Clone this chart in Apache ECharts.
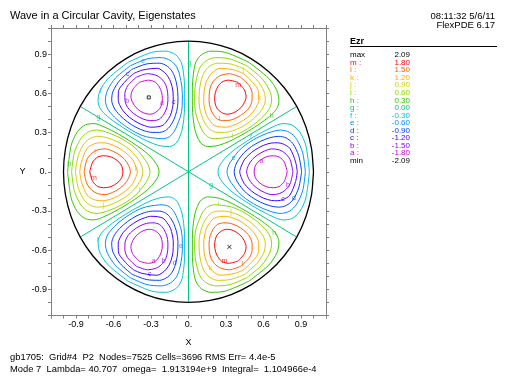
<!DOCTYPE html>
<html><head><meta charset="utf-8">
<script src="https://cdn.jsdelivr.net/npm/echarts@6/dist/echarts.min.js"></script>
<style>html,body{margin:0;padding:0;background:#fff}#c{width:512px;height:384px}</style>
</head><body><div id="c"></div>
<script>
// ---- data ----
const titleText = 'Wave in a Circular Cavity, Eigenstates';
const stampLines = ['08:11:32 5/6/11', 'FlexPDE 6.17'];
const footerLines = [
  'gb1705:  Grid#4  P2  Nodes=7525 Cells=3696 RMS Err= 4.4e-5',
  'Mode 7  Lambda= 40.707  omega=  1.913194e+9  Integral=  1.104966e-4'
];
const fieldName = 'Ezr';
const fieldMax = 2.09, fieldMin = -2.09;
const levelNames  = ['a','b','c','d','e','f','g','h','i','j','k','l','m'];
const levelValues = [-1.80,-1.50,-1.20,-0.90,-0.60,-0.30,0.00,0.30,0.60,0.90,1.20,1.50,1.80];
const levelColors = ['#d000e0','#9000ff','#4400ff','#0040ff','#0090ff','#00c8d0','#00c878',
                     '#30c800','#90d800','#d0d000','#ffb000','#ff6000','#ff0000'];
const axisTickLabels = [-0.9,-0.6,-0.3,0,0.3,0.6,0.9];

// lobe centre directions (degrees) : positive lobes and negative lobes
const positiveLobeAngles = [180, 60, 300];
const negativeLobeAngles = [0, 120, 240];

// contour of one lobe, upper half, as [radius, angle offset from lobe centre in degrees],
// from the outer tip round to the inner tip (|level| = 1.8, 1.5, 1.2, 0.9, 0.6, 0.3)
const lobe18 = [[.79,0],[.77,5.5],[.735,8.8],[.69,10.2],[.645,10.5],[.60,9.6],[.56,7.5],[.535,4.5],[.525,0]];
const lobe15 = [[.835,0],[.818,6.5],[.784,10.5],[.745,13],[.69,14.7],[.627,14.6],[.57,13.2],[.52,10.5],[.483,6],[.465,0]];
const lobe12 = [[.87,0],[.86,5],[.83,12.5],[.784,15.8],[.745,17.3],[.70,18.3],[.63,18.6],[.55,17.2],[.50,15],[.455,11.5],[.425,6],[.41,0]];
const lobe09 = [[.905,0],[.89,8],[.862,14.5],[.823,18.3],[.77,20.6],[.70,21.8],[.62,22],[.54,21],[.47,18.3],[.415,13.5],[.38,7.5],[.365,0]];
const lobe06 = [[.935,0],[.925,9],[.90,16],[.862,20.5],[.80,23.5],[.70,25],[.60,25.3],[.50,24.2],[.43,21.5],[.37,16],[.33,10],[.308,0]];
const lobe03 = [[.967,0],[.96,12],[.94,19],[.90,23.5],[.84,26],[.75,27],[.63,27.2],[.51,26.5],[.40,24.5],[.32,20.5],[.275,15],[.245,8],[.236,0]];
const lobeShapes = [lobe18, lobe15, lobe12, lobe09, lobe06, lobe03];
const shapeLevelMagnitudes = [1.80, 1.50, 1.20, 0.90, 0.60, 0.30];

// zero contours (nodal lines) : [start radius, end radius, direction deg]
const nodalLines = [[0,1,30],[0,1,90],[0,1,150],[0,1,210],[0,1,270],[0,1,330]];
// domain boundary: unit circle, sampled directions
const boundaryRadius = 1;
const boundaryAngles = [0,10,20,30,40,50,60,70,80,90,100,110,120,130,140,150,160,170,180,
  190,200,210,220,230,240,250,260,270,280,290,300,310,320,330,340,350,360];
// extremum markers
const maxMarker = [0.327, -0.575];
const minMarker = [-0.318, 0.569];
// contour letters written on the curves: [letter, x, y]
const contourLetters = [
  ['g',-0.721,0.421],['h',-0.955,0.062],['l',-0.748,0.151],['k',-0.416,0.017],['m',-0.756,-0.052],
  ['i',-0.390,-0.143],['j',-0.682,-0.257],
  ['e',-0.363,0.847],['c',-0.486,0.751],['f',-0.703,0.617],['b',-0.490,0.541],['a',-0.212,0.523],['c',-0.119,0.535],
  ['g',0.008,0.831],['m',0.398,0.662],['j',0.438,0.781],['k',0.565,0.561],['l',0.247,0.401],['h',0.666,0.427],
  ['i',0.353,0.275],['f',0.499,0.265],['e',0.361,0.105],['a',0.584,0.085],['b',0.796,-0.102],['c',0.756,-0.211],
  ['d',0.844,-0.203],['g',0.181,-0.105],['i',0.239,-0.249],['j',0.340,-0.312],['h',0.685,-0.469],
  ['m',0.287,-0.680],['l',0.433,-0.705],['k',0.175,-0.737],
  ['f',-0.725,-0.522],['e',-0.061,-0.570],['a',-0.279,-0.684],['b',-0.199,-0.684],['d',-0.111,-0.699],['c',-0.311,-0.781]
];

// ---- build ----
const FONT = '"Liberation Sans", Arial, sans-serif';
function polar(r, deg) { const t = deg * Math.PI / 180; return [r * Math.cos(t), r * Math.sin(t)]; }
function lobeLoop(shape, centre) {
  const upper = shape.map(([r, p]) => polar(r, centre + p));
  const lower = shape.slice(1, -1).reverse().map(([r, p]) => polar(r, centre - p));
  return upper.concat(lower, [upper[0]]);
}
function colorOf(v) { return levelColors[levelValues.findIndex(x => Math.abs(x - v) < 1e-9)]; }

const series = [];
lobeShapes.forEach((shape, i) => {
  const mag = shapeLevelMagnitudes[i];
  positiveLobeAngles.forEach(a => series.push({ type:'line', data: lobeLoop(shape, a), smooth:0.3,
    showSymbol:false, silent:true, lineStyle:{ color: colorOf(mag), width:1 } }));
  negativeLobeAngles.forEach(a => series.push({ type:'line', data: lobeLoop(shape, a), smooth:0.3,
    showSymbol:false, silent:true, lineStyle:{ color: colorOf(-mag), width:1 } }));
});
nodalLines.forEach(([r0, r1, a]) => series.push({ type:'line', data:[polar(r0, a), polar(r1, a)],
  showSymbol:false, silent:true, lineStyle:{ color: colorOf(0), width:1 } }));
series.push({ type:'line', data: boundaryAngles.map(a => polar(boundaryRadius, a)), smooth:0.2,
  showSymbol:false, silent:true, lineStyle:{ color:'#000', width:1.3 } });
series.push({ type:'scatter', data:[maxMarker], symbol:'path://M0,0L10,10M10,0L0,10', symbolSize:4,
  itemStyle:{ color:'none', borderColor:'#000', borderWidth:1 }, silent:true });
series.push({ type:'scatter', data:[minMarker], symbol:'rect', symbolSize:3,
  itemStyle:{ color:'#fff', borderColor:'#000', borderWidth:1 }, silent:true });
series.push({ type:'scatter', silent:true, symbolSize:0,
  data: contourLetters.map(([l, x, y]) => ({ value:[x, y], label:{ show:true, position:'inside', formatter:l,
    color: levelColors[levelNames.indexOf(l)], fontSize:7, fontFamily:FONT } })) });

const fmt = v => { const r = Math.round(v * 10) / 10;
  if (!axisTickLabels.some(t => Math.abs(t - r) < 1e-9)) return '';
  return r === 0 ? '0.' : r.toFixed(1); };
const axisBase = (extra) => Object.assign({
  type:'value', min:-1.1, max:1.1, interval:0.1,
  axisLine:{ show:true, onZero:false, lineStyle:{ color:'#808080', width:1 } },
  axisTick:{ show:true, inside:false, length:3, lineStyle:{ color:'#808080' } },
  splitLine:{ show:false },
  axisLabel:{ show:false }
}, extra);

const graphics = [];
graphics.push({ type:'text', left:10, top:10, style:{ text:titleText, font:'11px '+FONT, fill:'#000' } });
graphics.push({ type:'text', right:17, top:11, style:{ text:stampLines[0], font:'9.5px '+FONT, fill:'#000', textAlign:'right' } });
graphics.push({ type:'text', right:17, top:20, style:{ text:stampLines[1], font:'9.5px '+FONT, fill:'#000', textAlign:'right' } });
graphics.push({ type:'text', left:10, top:353, style:{ text:footerLines[0], font:'9.4px '+FONT, fill:'#000' } });
graphics.push({ type:'text', left:10, top:365, style:{ text:footerLines[1], font:'9.4px '+FONT, fill:'#000' } });
// legend block
graphics.push({ type:'text', left:350, top:37, style:{ text:fieldName, font:'bold 9px '+FONT, fill:'#000' } });
graphics.push({ type:'line', shape:{ x1:350, y1:46.5, x2:497, y2:46.5 }, style:{ stroke:'#000', lineWidth:1 } });
const legendRows = [{ n:'max', v:fieldMax, c:'#000' }];
for (let i = levelValues.length - 1; i >= 0; i--) legendRows.push({ n: levelNames[i] + ' :', v: levelValues[i], c: levelColors[i] });
legendRows.push({ n:'min', v:fieldMin, c:'#000' });
legendRows.forEach((row, i) => {
  const y = 55 + i * 7.55;
  graphics.push({ type:'text', x:350, y:y, style:{ text:row.n, font:'8px '+FONT, fill:row.c, textVerticalAlign:'middle' } });
  graphics.push({ type:'text', x:410, y:y, style:{ text:row.v.toFixed(2), font:'8px '+FONT, fill:row.c, textAlign:'right', textVerticalAlign:'middle' } });
});

const chart = echarts.init(document.getElementById('c'), null, { renderer:'canvas' });
chart.setOption({
  animation:false,
  backgroundColor:'#fff',
  grid:{ left:51, right:186, top:28, bottom:68.5 },
  xAxis:[
    axisBase({ position:'bottom', name:'X', nameLocation:'middle', nameGap:23,
      nameTextStyle:{ fontFamily:FONT, fontSize:9, color:'#000' },
      axisLabel:{ show:true, formatter:fmt, fontFamily:FONT, fontSize:9, color:'#000', margin:5 } }),
    axisBase({ position:'top' })
  ],
  yAxis:[
    axisBase({ position:'left', name:'Y', nameLocation:'middle', nameGap:20, nameRotate:0,
      nameTextStyle:{ fontFamily:FONT, fontSize:9, color:'#000' },
      axisLabel:{ show:true, formatter:fmt, fontFamily:FONT, fontSize:9, color:'#000', margin:4 } }),
    axisBase({ position:'right' })
  ],
  series: series,
  graphic: graphics
});
</script></body></html>
